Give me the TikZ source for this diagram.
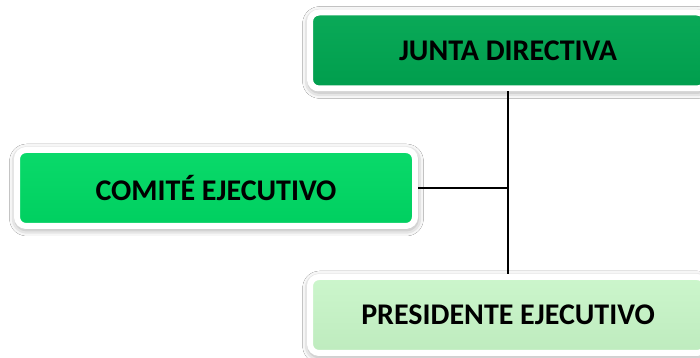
\documentclass[tikz,border=0pt]{standalone}
\usepackage{fontspec}
\setmainfont{Carlito}
\usetikzlibrary{positioning,shadows.blur,calc}

\definecolor{juntagreen}{RGB}{0,166,81}
\definecolor{comitegreen}{RGB}{0,216,100}
\definecolor{presgreen}{RGB}{198,245,198}

\begin{document}
\begin{tikzpicture}[
            x=1pt, y=1pt,
            font=\fontsize{30}{36}\selectfont\bfseries,
            orgbox/.style={draw=white, line width=6pt, rounded corners=9pt, align=center,
                minimum height=76pt, inner sep=0pt,
                blur shadow={shadow xshift=0.5pt, shadow yshift=-2pt, shadow blur radius=8pt, shadow opacity=55}},
            junta/.style={orgbox, minimum width=396pt, top color=juntagreen!96!white, bottom color=juntagreen!95!black},
            comite/.style={orgbox, minimum width=398pt, top color=comitegreen!96!white, bottom color=comitegreen!96!black},
            pres/.style={orgbox, minimum width=396pt, top color=presgreen!90!white, bottom color=presgreen!96!black},
            link/.style={line width=1.4pt, black}
        ]
            \useasboundingbox (0,0) rectangle (700,358);
            \fill[white] (0,0) rectangle (700,358);
            \clip (0,0) rectangle (700,358);

            \node[junta] (junta) at (508,307.5) {JUNTA DIRECTIVA};
            \node[pres, below=182.5pt of junta] (pres) {PRESIDENTE EJECUTIVO};
            \node[comite] (comite) at (216,170) {COMITÉ EJECUTIVO};

            \draw[link] (junta.south) -- (pres.north);
            \draw[link] (comite.east) -- (comite.east -| junta.south);
        \end{tikzpicture}
\end{document}
